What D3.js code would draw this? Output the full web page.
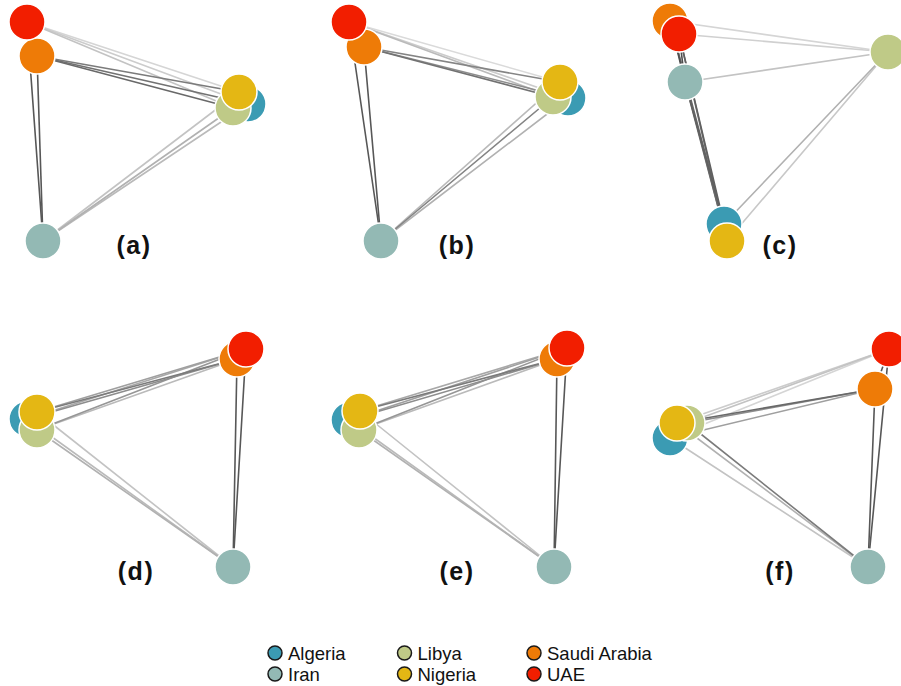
<!DOCTYPE html>
<html>
<head>
<meta charset="utf-8">
<script src="https://cdn.jsdelivr.net/npm/d3@7"></script>
<style>
  html, body { margin: 0; padding: 0; background: #fff; }
  svg { display: block; }
</style>
</head>
<body>
<svg id="chart" width="901" height="686"></svg>
<script>
// Countries (nodes) and their colours
const countries = ["Algeria", "Iran", "Libya", "Nigeria", "Saudi Arabia", "UAE"];
const countryColors = ["#3b9bb3", "#93b9b4", "#bfca87", "#e4b714", "#ee7b07", "#f21e00"];

// Panel labels
const panelLabels = ["(a)", "(b)", "(c)", "(d)", "(e)", "(f)"];

// Node layout per panel, in panel-local units, listed in the order of `countries`
const layoutA = [[248, 104], [43, 241], [233, 108], [239, 92], [37, 56], [27, 22]];
const layoutB = [[268, 98], [81, 241], [253, 97], [260, 82], [64, 47], [49, 22]];
const layoutC = [[124, 224], [85, 82], [288, 52], [127, 241], [70, 21], [79, 34]];
const layoutD = [[27, 99], [233, 247], [37, 110], [37, 92], [237, 39], [246, 29]];
const layoutE = [[49, 100], [254, 247], [59, 110], [60, 91], [257, 39], [267, 28]];
const layoutF = [[70, 118], [268, 247], [87, 103], [77, 103], [275, 69], [289, 29]];

// Country pairs (edges)
const pairs = [
  [0, 1], [0, 2], [0, 3], [0, 4], [0, 5],
  [1, 2], [1, 3], [1, 4], [1, 5],
  [2, 3], [2, 4], [2, 5],
  [3, 4], [3, 5],
  [4, 5]
];

// Edge strengths per panel, in the order of `pairs`
const weightsA = [0.30, 0.90, 0.90, 0.70, 0.20, 0.35, 0.25, 0.85, 0.85, 0.90, 0.75, 0.25, 0.65, 0.15, 0.90];
const weightsB = [0.35, 0.90, 0.90, 0.55, 0.20, 0.60, 0.30, 0.85, 0.85, 0.90, 0.70, 0.30, 0.60, 0.12, 0.90];
const weightsC = [0.80, 0.35, 0.90, 0.75, 0.80, 0.25, 0.75, 0.90, 0.90, 0.22, 0.15, 0.18, 0.70, 0.70, 0.90];
const weightsD = [0.30, 0.90, 0.90, 0.55, 0.40, 0.35, 0.25, 0.85, 0.85, 0.90, 0.30, 0.50, 0.65, 0.45, 0.90];
const weightsE = [0.30, 0.90, 0.90, 0.55, 0.45, 0.35, 0.25, 0.85, 0.85, 0.90, 0.30, 0.50, 0.65, 0.40, 0.90];
const weightsF = [0.25, 0.90, 0.90, 0.45, 0.15, 0.65, 0.35, 0.85, 0.85, 0.90, 0.55, 0.25, 0.75, 0.20, 0.85];

const layouts = [layoutA, layoutB, layoutC, layoutD, layoutE, layoutF];
const weights = [weightsA, weightsB, weightsC, weightsD, weightsE, weightsF];

// Panel placement and label anchors
const panelOrigins = [[0, 0], [300, 0], [600, 0], [0, 320], [300, 320], [600, 320]];
const labelPos = [[134, 254], [157, 254], [180, 254], [136, 260], [157, 260], [180, 260]];

const svg = d3.select("#chart");
const colour = d3.scaleOrdinal().domain(countries).range(countryColors);
const edgeGrey = d3.scaleLinear().domain([0, 1]).range(["#f0f0f0", "#3c3c3c"]).interpolate(d3.interpolateRgb);
const nodeR = 18;

layouts.forEach((layout, p) => {
  const [ox, oy] = panelOrigins[p];
  const x = d3.scaleLinear().domain([0, 300]).range([ox, ox + 300]);
  const y = d3.scaleLinear().domain([0, 320]).range([oy, oy + 320]);
  const g = svg.append("g").attr("class", "panel");

  const nodes = countries.map((c, i) => ({ name: c, x: x(layout[i][0]), y: y(layout[i][1]) }));
  const links = pairs.map((pr, k) => ({ s: nodes[pr[0]], t: nodes[pr[1]], w: weights[p][k] }))
    .sort((a, b) => a.w - b.w);

  g.selectAll("line.edge")
    .data(links)
    .join("line")
    .attr("class", "edge")
    .attr("x1", d => d.s.x).attr("y1", d => d.s.y)
    .attr("x2", d => d.t.x).attr("y2", d => d.t.y)
    .attr("stroke", d => edgeGrey(d.w))
    .attr("stroke-width", 1.6)
    .attr("stroke-linecap", "round");

  g.selectAll("circle.node")
    .data(nodes)
    .join("circle")
    .attr("class", "node")
    .attr("cx", d => d.x).attr("cy", d => d.y)
    .attr("r", nodeR)
    .attr("fill", d => colour(d.name))
    .attr("stroke", "#fff")
    .attr("stroke-width", 1.5);

  g.append("text")
    .attr("x", x(labelPos[p][0]))
    .attr("y", y(labelPos[p][1]))
    .attr("text-anchor", "middle")
    .attr("font-family", "Liberation Sans, Arial, sans-serif")
    .attr("font-weight", "bold")
    .attr("font-size", 25)
    .attr("letter-spacing", 1.5)
    .attr("fill", "#111")
    .text(panelLabels[p]);
});

// Legend: three columns, two rows
const legend = svg.append("g").attr("class", "legend");
const legendX = d3.scalePoint().domain([0, 1, 2]).range([275, 534]);
const legendY = d3.scalePoint().domain([0, 1]).range([653, 674]);
const items = legend.selectAll("g.item")
  .data(countries)
  .join("g")
  .attr("class", "item")
  .attr("transform", (d, i) => `translate(${legendX(Math.floor(i / 2))},${legendY(i % 2)})`);
items.append("circle")
  .attr("r", 7)
  .attr("fill", d => colour(d))
  .attr("stroke", "#1a1a1a")
  .attr("stroke-width", 1.5);
items.append("text")
  .attr("x", 13)
  .attr("y", 6.5)
  .attr("font-family", "Liberation Sans, Arial, sans-serif")
  .attr("font-size", 18.5)
  .attr("fill", "#111")
  .text(d => d);
</script>
</body>
</html>
